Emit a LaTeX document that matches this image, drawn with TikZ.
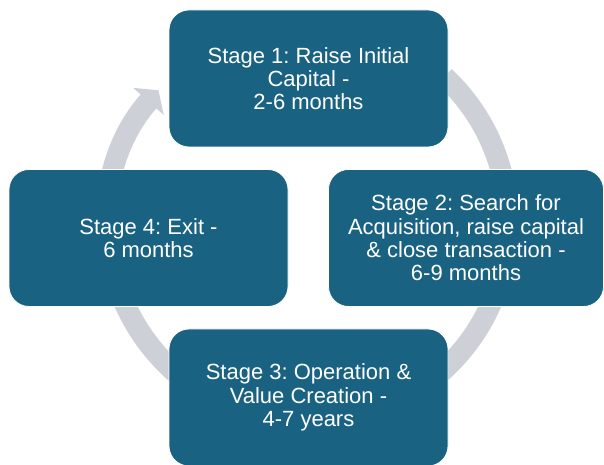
\documentclass[tikz,border=0pt]{standalone}
\usepackage{fontspec}
\setmainfont{Liberation Sans}
\usetikzlibrary{arrows.meta}
\definecolor{petrol}{HTML}{1A6282}
\definecolor{cyclegrey}{HTML}{CDD1D7}
\frenchspacing

\begin{document}
\begin{tikzpicture}[x=1pt, y=1pt,
      stage/.style={draw=white, line width=0.8pt, fill=petrol, text=white, rounded corners=20pt,
                    minimum width=279pt, minimum height=137pt, align=center,
                    font=\fontsize{22}{23.3}\selectfont}]
    \useasboundingbox (0,0) rectangle (604,465);
    % grey cycle arrow behind the stages
    \coordinate (c) at (308,242);
    \draw[cyclegrey, line width=21pt, -{Triangle[width=40pt, length=15pt]}]
        ([shift={(47:200)}]c) arc[start angle=47, end angle=-221.6, radius=200];
    \node[stage] (s1) at (308.5,386.5) {Stage 1: Raise Initial\\Capital -\\2-6 months};
    \node[stage, minimum width=275pt] (s2) at (466,227) {Stage 2: Search for\\Acquisition, raise capital\\\& close transaction -\\6-9 months};
    \node[stage] (s3) at (308.5,67.5) {Stage 3: Operation \&\\Value Creation -\\4-7 years};
    \node[stage] (s4) at (148.5,227) {Stage 4: Exit -\\6 months};
\end{tikzpicture}
\end{document}
